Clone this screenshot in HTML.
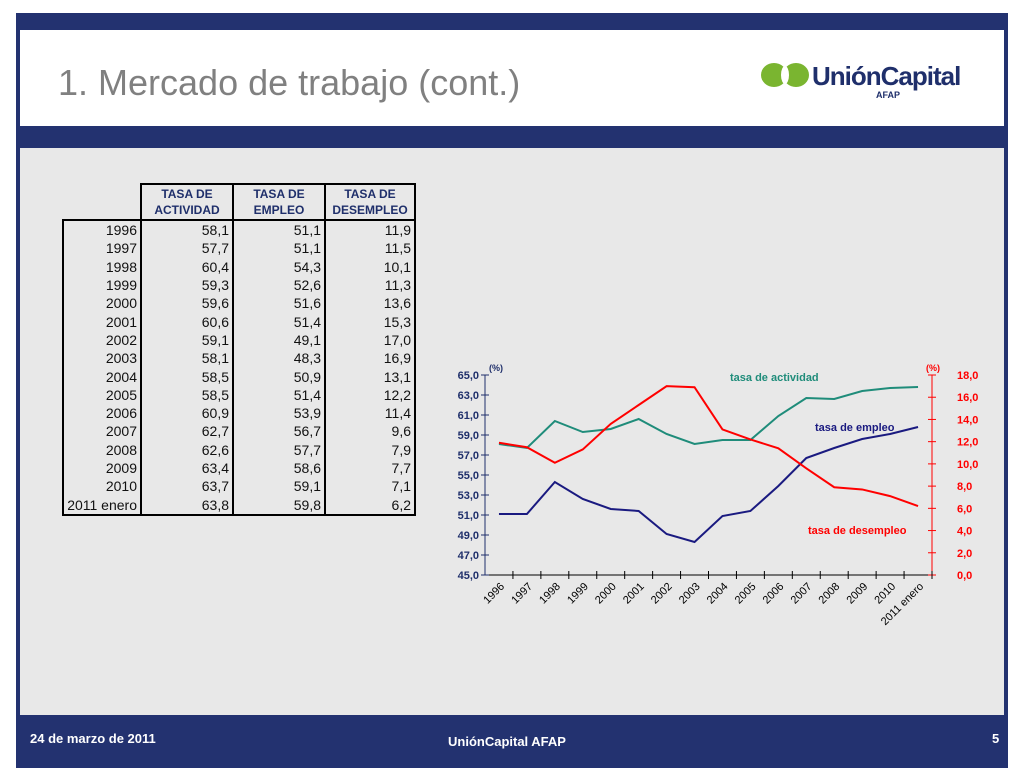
<!DOCTYPE html>
<html><head><meta charset="utf-8"><style>
body{margin:0;width:1024px;height:768px;background:#fff;position:relative;overflow:hidden;font-family:"Liberation Sans",sans-serif}
.abs{position:absolute}
table{border-collapse:collapse;position:absolute;left:62px;top:183px;font-size:14px}
td{padding:0 3px;height:18.3px;line-height:18px;text-align:right;color:#111}
th{font-size:12px;color:#1f2f6b;line-height:16px;font-weight:bold;border:2px solid #000;border-bottom:2px solid #000;padding:1px 2px}
</style></head><body>
<div class="abs" style="left:16px;top:13px;width:992px;height:755px;background:#233270"></div>
<div class="abs" style="left:20px;top:30px;width:984px;height:96px;background:#fff"></div>
<div class="abs" style="left:58px;top:62px;font-size:36px;color:#808080">1. Mercado de trabajo (cont.)</div>
<div class="abs" style="left:760px;top:62px;width:220px;height:40px">
<svg width="220" height="40"><ellipse cx="14" cy="13" rx="13" ry="12" fill="#7ab530"/><ellipse cx="36" cy="13" rx="13" ry="12" fill="#7ab530"/><ellipse cx="25" cy="13" rx="4" ry="9" fill="#fff"/>
<text x="52" y="23" font-family="Liberation Sans" font-weight="bold" font-size="26" fill="#1f2f6b" letter-spacing="-1">UniónCapital</text>
<text x="116" y="36" font-family="Liberation Sans" font-weight="bold" font-size="9" fill="#1f2f6b">AFAP</text></svg></div>
<div class="abs" style="left:20px;top:148px;width:984px;height:567px;background:#e8e8e8"></div>
<table>
<tr><th style="border:none;border-right:2px solid #000;width:73px"></th><th style="width:86px">TASA DE<br>ACTIVIDAD</th><th style="width:86px">TASA DE<br>EMPLEO</th><th style="width:84px">TASA DE<br>DESEMPLEO</th></tr>
<tbody id="tb" style="border:2px solid #000"></tbody></table>
<svg class="abs" style="left:0;top:0" width="1024" height="768" id="chart"></svg>
<div class="abs" style="left:30px;top:731px;font-size:13px;font-weight:bold;color:#fff">24 de marzo de 2011</div>
<div class="abs" style="left:448px;top:734px;font-size:13px;font-weight:bold;color:#fff">UniónCapital AFAP</div>
<div class="abs" style="left:992px;top:731px;font-size:13px;font-weight:bold;color:#fff">5</div>
<script>
const years=["1996","1997","1998","1999","2000","2001","2002","2003","2004","2005","2006","2007","2008","2009","2010","2011 enero"];
const actividad=[58.1,57.7,60.4,59.3,59.6,60.6,59.1,58.1,58.5,58.5,60.9,62.7,62.6,63.4,63.7,63.8];
const empleo=[51.1,51.1,54.3,52.6,51.6,51.4,49.1,48.3,50.9,51.4,53.9,56.7,57.7,58.6,59.1,59.8];
const desempleo=[11.9,11.5,10.1,11.3,13.6,15.3,17.0,16.9,13.1,12.2,11.4,9.6,7.9,7.7,7.1,6.2];
const leftTicks=[45,47,49,51,53,55,57,59,61,63,65];
const rightTicks=[0,2,4,6,8,10,12,14,16,18];
const f=v=>v.toFixed(1).replace('.',',');
const tb=document.getElementById('tb');
years.forEach((y,i)=>{const tr=document.createElement('tr');


[y,f(actividad[i]),f(empleo[i]),f(desempleo[i])].forEach((t,j)=>{const td=document.createElement('td');td.textContent=t;if(j<3)td.style.borderRight='2px solid #000';tr.appendChild(td);});tb.appendChild(tr);});
const NS='http://www.w3.org/2000/svg',svg=document.getElementById('chart');
const X0=485,X1=932,Y0=575,Y1=375,bw=(X1-X0)/years.length;
const x=i=>X0+bw*(i+0.5),yl=v=>Y0-(v-45)/20*(Y0-Y1),yr=v=>Y0-v/18*(Y0-Y1);
function el(t,a,name){const e=document.createElementNS(NS,t);for(const k in a)e.setAttribute(k,a[k]);

svg.appendChild(e);return e;}
function txt(s,a,name){const e=el('text',Object.assign({'font-family':'Liberation Sans','font-size':11,'font-weight':'bold'},a),name);e.textContent=s;return e;}
el('line',{x1:X0,y1:Y1,x2:X0,y2:Y0,stroke:'#1f2f6b'},'left-axis');
el('line',{x1:X1,y1:Y1,x2:X1,y2:Y0,stroke:'#f00'},'right-axis');
el('line',{x1:X0,y1:Y0,x2:X1,y2:Y0,stroke:'#000'},'x-axis');
leftTicks.forEach(v=>{el('line',{x1:X0-4,x2:X0+4,y1:yl(v),y2:yl(v),stroke:'#1f2f6b'},'left-tick');txt(f(v),{x:X0-6,y:yl(v)+4,'text-anchor':'end',fill:'#1f2f6b'},'left-tick-label');});
rightTicks.forEach(v=>{el('line',{x1:X1-4,x2:X1+4,y1:yr(v),y2:yr(v),stroke:'#f00'},'right-tick');txt(f(v),{x:X1+25,y:yr(v)+4,'text-anchor':'start',fill:'#f00'},'right-tick-label');});
years.forEach((y,i)=>{const bx=X0+bw*(i+1);el('line',{x1:bx,x2:bx,y1:Y0-4,y2:Y0+4,stroke:'#000'},'x-tick');
const t=txt(y,{x:x(i)+6,y:Y0+12,'text-anchor':'end','font-weight':'normal','font-size':11,fill:'#000',transform:`rotate(-45 ${x(i)+6} ${Y0+12})`},'x-tick-label');});
txt('(%)',{x:489,y:371,fill:'#1f2f6b','font-size':9},'left-unit');
txt('(%)',{x:926,y:371,fill:'#f00','font-size':9},'right-unit');
function line(d,fy,c,name){el('polyline',{points:d.map((v,i)=>x(i)+','+fy(v)).join(' '),fill:'none',stroke:c,'stroke-width':2},name);}
line(actividad,yl,'#1f8c7a','line-actividad');
line(empleo,yl,'#1a1a80','line-empleo');
line(desempleo,yr,'#ff0000','line-desempleo');
txt('tasa de actividad',{x:730,y:381,fill:'#1f8c7a'},'label-actividad');
txt('tasa de empleo',{x:815,y:431,fill:'#1a1a80'},'label-empleo');
txt('tasa de desempleo',{x:808,y:534,fill:'#f00'},'label-desempleo');
</script>
</body></html>
